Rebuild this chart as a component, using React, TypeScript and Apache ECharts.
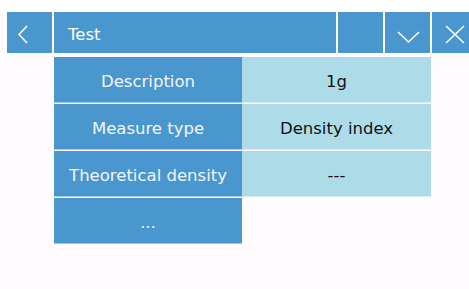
import React, { useEffect, useRef } from "react";
import * as echarts from "echarts";

const titleText = "Test";
const rowLabels = ["Description", "Measure type", "Theoretical density", "..."];
const rowValues = ["1g", "Density index", "---"];

const BLUE = "#4A96CF";
const CYAN = "#ADDCE8";
const FONT = "DejaVu Sans";

export default function App() {
  const ref = useRef<HTMLDivElement>(null);
  useEffect(() => {
    if (!ref.current) return;
    const chart = echarts.init(ref.current, null, { renderer: "svg" });
    const elements: any[] = [];
    // top white strip
    elements.push({ type: "rect", shape: { x: 0, y: 0, width: 469, height: 12 }, style: { fill: "#FFFFFF" } });
    // top bar buttons
    const btns = [
      [7, 45],
      [54, 282],
      [338, 45],
      [385, 45],
      [432, 45],
    ];
    btns.forEach(([x, w]) => {
      elements.push({ type: "rect", shape: { x, y: 12, width: w, height: 41 }, style: { fill: BLUE } });
    });
    elements.push({
      type: "text",
      x: 68,
      y: 34,
      style: { text: titleText, fill: "#FFFFFF", font: `16.5px "${FONT}"`, verticalAlign: "middle", align: "left" },
    });
    // back chevron
    elements.push({
      type: "polyline",
      shape: { points: [[27, 26], [19, 34.5], [27, 43]] },
      style: { stroke: "#FFFFFF", lineWidth: 1.6, fill: "none" },
    });
    // down chevron
    elements.push({
      type: "polyline",
      shape: { points: [[398, 32], [408.5, 42], [419, 32]] },
      style: { stroke: "#FFFFFF", lineWidth: 1.6, fill: "none" },
    });
    // close X
    elements.push({ type: "line", shape: { x1: 446, y1: 26, x2: 464, y2: 43 }, style: { stroke: "#FFFFFF", lineWidth: 1.6 } });
    elements.push({ type: "line", shape: { x1: 464, y1: 26, x2: 446, y2: 43 }, style: { stroke: "#FFFFFF", lineWidth: 1.6 } });

    // table
    rowLabels.forEach((label, i) => {
      const y = 57 + 47 * i;
      elements.push({ type: "rect", shape: { x: 54, y, width: 188, height: 45.5 }, style: { fill: BLUE } });
      elements.push({
        type: "text",
        x: 148,
        y: y + 24,
        style: { text: label, fill: "#F2F6FB", font: `16.5px "${FONT}"`, align: "center", verticalAlign: "middle" },
      });
      if (i < rowValues.length) {
        elements.push({ type: "rect", shape: { x: 242, y, width: 189, height: 45.5 }, style: { fill: CYAN } });
        elements.push({
          type: "text",
          x: 336.5,
          y: y + 24,
          style: { text: rowValues[i], fill: "#111111", font: `16.5px "${FONT}"`, align: "center", verticalAlign: "middle" },
        });
      }
    });

    chart.setOption({
      animation: false,
      backgroundColor: "#FFFBFF",
      graphic: { elements },
    });
    return () => chart.dispose();
  }, []);
  return <div ref={ref} style={{ position: "fixed", left: 0, top: 0, width: 469, height: 289 }} />;
}
